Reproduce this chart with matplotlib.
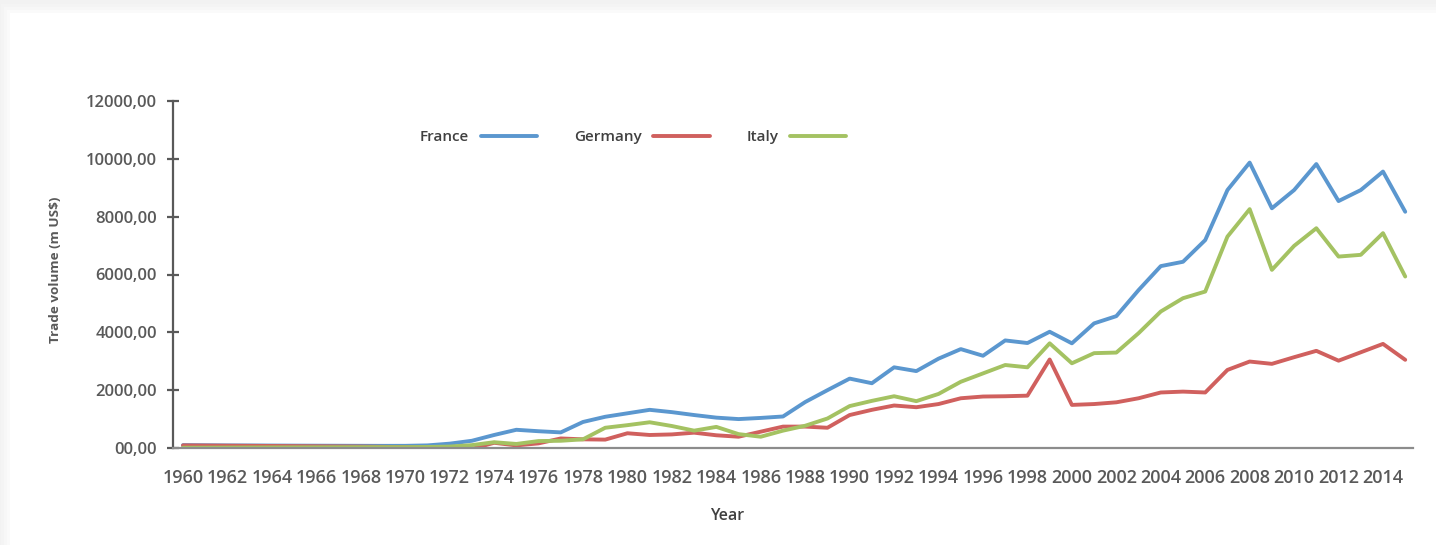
import matplotlib
matplotlib.use('Agg')
import matplotlib.pyplot as plt
from matplotlib.patches import Rectangle

plt.rcParams['font.family'] = ['Open Sans', 'DejaVu Sans']

# Trade volume, million US$, 1960-2015
years = list(range(1960, 2016))

france = [100, 95, 90, 88, 85, 82, 80, 78, 76, 74, 75, 90, 150, 250, 450, 630, 580, 540, 900, 1080,
          1200, 1320, 1240, 1140, 1050, 1000, 1040, 1090, 1590, 2000, 2400, 2240, 2790, 2660, 3090, 3420,
          3190, 3720, 3630, 4020, 3620, 4310, 4560, 5460, 6290, 6440, 7190, 8920, 9870, 8290, 8920, 9820,
          8540, 8920, 9560, 8170]

germany = [90, 85, 80, 75, 70, 65, 60, 55, 50, 40, 30, 15, 0, -30, 180, 90, 160, 330, 300, 290,
           510, 450, 470, 530, 440, 390, 565, 740, 740, 700, 1140, 1320, 1470, 1410, 1520, 1720,
           1780, 1790, 1810, 3060, 1490, 1520, 1580, 1720, 1920, 1950, 1920, 2700, 2990, 2910, 3140, 3360,
           3020, 3310, 3600, 3050]

italy = [10, 12, 15, 18, 20, 22, 24, 26, 28, 30, 30, 35, 50, 100, 200, 140, 240, 250, 300, 700,
         790, 890, 760, 600, 730, 480, 390, 600, 770, 1020, 1450, 1630, 1790, 1620, 1870, 2290,
         2580, 2870, 2790, 3620, 2930, 3280, 3300, 3970, 4720, 5180, 5410, 7310, 8260, 6160, 6990, 7600,
         6620, 6680, 7430, 5930]

series = [('France', france, '#5b97cf'),
          ('Germany', germany, '#d0605e'),
          ('Italy', italy, '#a4c262')]

y_ticks = [0, 2000, 4000, 6000, 8000, 10000, 12000]
y_tick_labels = ['00,00', '2000,00', '4000,00', '6000,00', '8000,00', '10000,00', '12000,00']
x_ticks = list(range(1960, 2015, 2))

W, H = 1436, 545
fig = plt.figure(figsize=(W / 100, H / 100), dpi=100)
fig.patch.set_facecolor('#f2f2f2')

# soft card edge on the left and top
for i, c in enumerate(['#f4f4f4', '#f7f7f7', '#fafafa', '#fcfcfc']):
    off = 3 * (3 - i)
    fig.add_artist(Rectangle(((10 - off) / W, 0), 1, 1 - (13 - off) / H,
                             transform=fig.transFigure, facecolor=c, edgecolor='none', zorder=-3 + i))
fig.add_artist(Rectangle((10 / W, 0), 1, 1 - 13 / H, transform=fig.transFigure,
                         facecolor='white', edgecolor='none', zorder=1))

ax = fig.add_axes([173 / W, 1 - 448 / H, (1413 - 173) / W, 347 / H])
ax.set_zorder(2)
ax.patch.set_alpha(0)

for name, vals, col in series:
    ax.plot(years, vals, color=col, lw=2.8, label=name, solid_capstyle='round', solid_joinstyle='round')

ax.set_xlim(1959.55, 2015.35)
ax.set_ylim(0, 12000)
ax.set_yticks(y_ticks)
ax.set_yticklabels(y_tick_labels)
ax.set_xticks(x_ticks)
ax.set_xticklabels([str(y) for y in x_ticks])

for s in ['top', 'right']:
    ax.spines[s].set_visible(False)
ax.spines['left'].set_color('#595959')
ax.spines['left'].set_linewidth(1.6)
ax.spines['bottom'].set_color('#8c8c8c')
ax.spines['bottom'].set_linewidth(1.6)

ax.tick_params(axis='y', direction='inout', length=9, width=1.6, color='#595959',
               labelsize=12, labelcolor='#595959', pad=7)
ax.tick_params(axis='x', length=0, labelsize=13, labelcolor='#595959', pad=15)
for lbl in ax.get_xticklabels() + ax.get_yticklabels():
    lbl.set_fontweight('semibold')

ax.set_ylabel('Trade volume (m US$)', fontsize=9.7, fontweight='bold', color='#595959')
ax.yaxis.set_label_coords(-0.0895, 0.513)
fig.text(727 / W, 1 - 516 / H, 'Year', ha='center', va='center', fontsize=11.5,
         fontweight='semibold', color='#404040')

leg = ax.legend(loc='center left', bbox_to_anchor=(420 / W, 1 - 137 / H), bbox_transform=fig.transFigure,
                ncol=3, frameon=False, markerfirst=False, borderpad=0, borderaxespad=0,
                handlelength=3.7, handletextpad=0.75, columnspacing=2.4,
                prop={'size': 11, 'weight': 'semibold'})
for t in leg.get_texts():
    t.set_color('#404040')

fig.savefig('out.png', dpi=100, facecolor=fig.get_facecolor())
